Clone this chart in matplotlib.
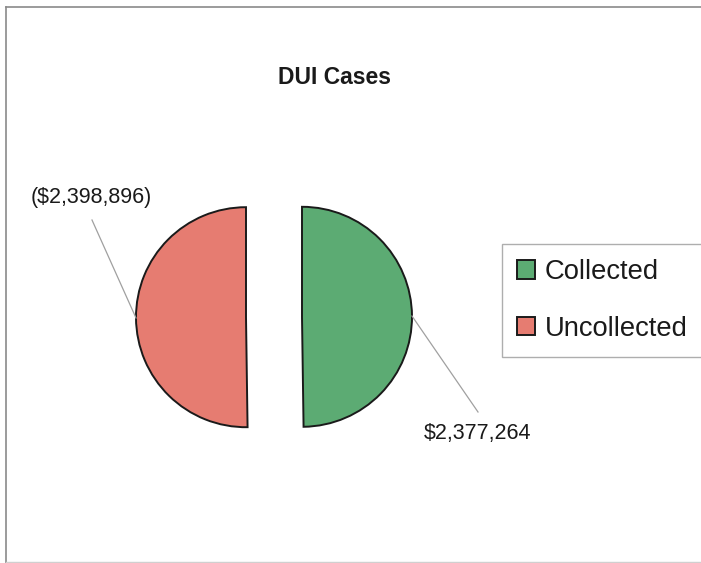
import numpy as np
import matplotlib
matplotlib.use("Agg")
import matplotlib.pyplot as plt
from matplotlib.lines import Line2D

plt.rcParams["font.family"] = ["Liberation Sans", "DejaVu Sans"]

# Chart data
title = "DUI Cases"
categories = ["Collected", "Uncollected"]
amounts = [2377264, -2398896]
colors = ["#5cab73", "#e67c71"]


def money(v):
    s = "${:,.0f}".format(abs(v))
    return "({})".format(s) if v < 0 else s


W, H = 701, 563
fig = plt.figure(figsize=(W / 100, H / 100), dpi=100)
fig.patch.set_facecolor("white")

# Axes spanning the whole figure, one data unit per pixel (y measured upward)
ax = fig.add_axes([0, 0, 1, 1])
cx, cy, r = 274, H - 317, 110
wedges, _ = ax.pie(
    [abs(v) for v in amounts],
    colors=colors,
    startangle=90,
    counterclock=False,
    radius=r,
    center=(cx, cy),
    explode=[28, 28],
    wedgeprops=dict(edgecolor="#1a1a1a", linewidth=1.4),
)
ax.set_xlim(0, W)
ax.set_ylim(0, H)
ax.set_aspect("auto")
ax.axis("off")

# Value labels with leader lines from the middle of each arc
label_pos = [(478, H - 433), (91, H - 197)]
line_end = [(478, H - 412), (92, H - 220)]
for w, v, (tx, ty), (ex, ey) in zip(wedges, amounts, label_pos, line_end):
    mid = np.deg2rad((w.theta1 + w.theta2) / 2)
    px = w.center[0] + w.r * np.cos(mid)
    py = w.center[1] + w.r * np.sin(mid)
    ax.plot([px, ex], [py, ey], color="#a0a0a0", lw=0.9)
    ax.text(tx, ty, money(v), ha="center", va="center", fontsize=15.5, color="#1a1a1a")

ax.text(334, H - 77, title, ha="center", va="center", fontsize=16.5,
        fontweight="bold", color="#1a1a1a")

leg = fig.legend(
    wedges, categories,
    loc="upper left",
    bbox_to_anchor=(502 / W, 1 - 244 / H),
    borderaxespad=0,
    fontsize=19.7,
    frameon=True,
    fancybox=False,
    edgecolor="#9a9a9a",
    handlelength=0.66,
    handleheight=0.66,
    handletextpad=0.35,
    borderpad=0.55,
    labelspacing=1.12,
)
leg.get_frame().set_linewidth(1.0)
for t in leg.get_texts():
    t.set_color("#1a1a1a")

# Outer chart border (left, top, bottom)
border = dict(color="#8a8a8a", lw=1.2, transform=fig.transFigure)
fig.add_artist(Line2D([6 / W, 6 / W], [0, 1 - 7 / H], **border))
fig.add_artist(Line2D([6 / W, 1], [1 - 7 / H, 1 - 7 / H], **border))
fig.add_artist(Line2D([6 / W, 1], [1 / H, 1 / H], color="#d0d0d0", lw=1.0,
                      transform=fig.transFigure))

fig.savefig("out.png", dpi=100, facecolor="white")
